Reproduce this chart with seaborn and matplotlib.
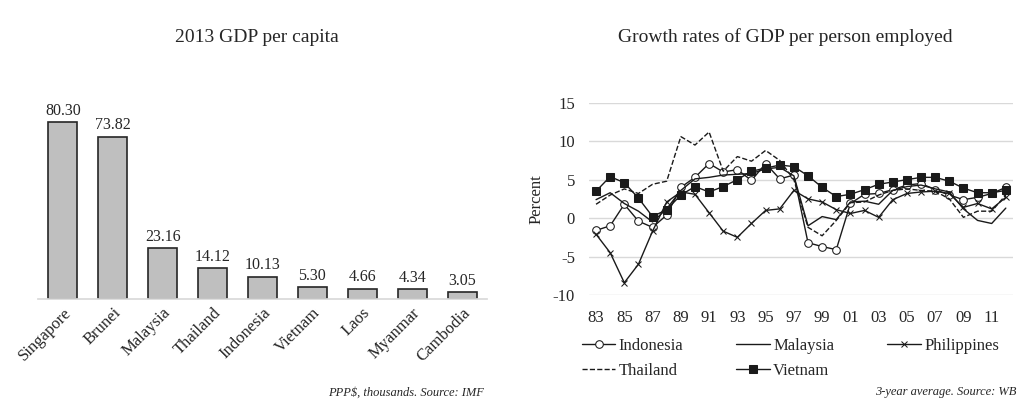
import numpy as np
import pandas as pd
import matplotlib
matplotlib.use("Agg")
import matplotlib.pyplot as plt
import seaborn as sns

sns.set_theme(style="white")
plt.rcParams["font.family"] = ["Liberation Serif", "DejaVu Serif"]
plt.rcParams["axes.unicode_minus"] = False

# left chart: 2013 GDP per capita
countries = ["Singapore", "Brunei", "Malaysia", "Thailand", "Indonesia",
             "Vietnam", "Laos", "Myanmar", "Cambodia"]
gdp_pc = [80.30, 73.82, 23.16, 14.12, 10.13, 5.30, 4.66, 4.34, 3.05]

# right chart: growth of GDP per person employed, 3-year average
years = list(range(1983, 2013))
indonesia = [-1.6, -1.0, 1.8, -0.4, -1.2, 0.4, 4.0, 5.3, 7.1, 6.0,
             6.3, 4.9, 7.1, 5.1, 5.6, -3.2, -3.7, -4.1, 1.9, 3.1,
             3.2, 3.7, 4.3, 4.5, 3.7, 3.0, 2.4, 2.7, 3.2, 4.0]
malaysia = [2.4, 3.3, 1.9, 0.9, -0.5, 1.2, 3.6, 5.1, 5.3, 5.6,
            5.7, 5.8, 6.4, 6.6, 5.5, -1.0, 0.2, -0.2, 2.1, 2.2,
            1.8, 3.6, 4.1, 4.3, 3.8, 3.4, 1.2, -0.3, -0.7, 1.3]
philippines = [-2.1, -4.5, -8.4, -6.0, -1.7, 2.1, 3.4, 3.1, 0.7, -1.7,
               -2.5, -0.7, 1.0, 1.2, 3.6, 2.5, 2.1, 1.1, 0.6, 1.0,
               0.1, 2.4, 3.2, 3.4, 3.5, 3.2, 1.4, 1.9, 1.2, 2.7]
thailand = [1.8, 3.0, 3.8, 3.2, 4.4, 4.8, 10.6, 9.5, 11.2, 6.1,
            8.0, 7.4, 8.8, 7.5, 5.0, -1.2, -2.3, -0.3, 2.0, 2.1,
            3.0, 3.6, 3.8, 3.6, 3.5, 2.5, 0.1, 0.9, 0.9, 3.0]
vietnam = [3.5, 5.4, 4.6, 2.6, 0.2, 1.1, 3.0, 4.1, 3.4, 4.1,
           5.0, 6.1, 6.5, 6.9, 6.7, 5.5, 4.0, 2.8, 3.1, 3.7,
           4.4, 4.7, 5.0, 5.3, 5.3, 4.8, 3.9, 3.3, 3.3, 3.6]

fig = plt.figure(figsize=(10.19, 4.03), dpi=100)

# ---- bar chart
ax1 = fig.add_axes([0.0373, 0.258, 0.4406, 0.491])
bar_df = pd.DataFrame({"country": countries, "gdp": gdp_pc})
sns.barplot(data=bar_df, x="country", y="gdp", color="#bfbfbf",
            edgecolor="#262626", linewidth=1.2, width=0.58,
            saturation=1, ax=ax1)
for i, v in enumerate(gdp_pc):
    ax1.text(i, v + 1.5, f"{v:.2f}", ha="center", va="bottom",
             fontsize=11.5, color="#262626")
ax1.set_xlim(-0.5, 8.5)
ax1.set_ylim(0, 90)
ax1.set_yticks([])
ax1.set_xlabel("")
ax1.set_ylabel("")
for s in ["top", "right", "left"]:
    ax1.spines[s].set_visible(False)
ax1.spines["bottom"].set_color("#d9d9d9")
ax1.tick_params(axis="x", length=0, pad=4)
plt.setp(ax1.get_xticklabels(), rotation=45, ha="right",
         rotation_mode="anchor", fontsize=12, color="#262626")
fig.text(0.252, 0.908, "2013 GDP per capita", ha="center", va="center",
         fontsize=14, color="#262626")
fig.text(0.475, 0.025, "PPP$, thousands. Source: IMF", ha="right",
         va="center", fontsize=9, style="italic", color="#262626")

# ---- line chart
ax2 = fig.add_axes([0.578, 0.268, 0.416, 0.477])
series = {
    "Indonesia": (indonesia, dict(marker="o", markerfacecolor="white",
                                  markeredgecolor="#1a1a1a", markersize=5.5,
                                  linestyle="-")),
    "Malaysia": (malaysia, dict(marker=None, linestyle="-")),
    "Philippines": (philippines, dict(marker="x", markersize=5,
                                      markeredgecolor="#1a1a1a",
                                      linestyle="-")),
    "Thailand": (thailand, dict(marker=None, linestyle="--",
                                dashes=(3, 1.5))),
    "Vietnam": (vietnam, dict(marker="s", markersize=5.5,
                              markerfacecolor="#1a1a1a",
                              markeredgecolor="#1a1a1a", linestyle="-")),
}
for name, (vals, kw) in series.items():
    sns.lineplot(x=years, y=vals, color="#1a1a1a", linewidth=1.0,
                 ax=ax2, label=name, **kw)
h, l = ax2.get_legend_handles_labels()
handles = dict(zip(l, h))
ax2.get_legend().remove()

ax2.set_xlim(1982.5, 2012.5)
ax2.set_ylim(-10, 15)
ax2.set_yticks(range(-10, 16, 5))
ax2.set_xticks(range(1983, 2012, 2))
ax2.set_xticklabels([f"{y % 100:02d}" for y in range(1983, 2012, 2)])
ax2.yaxis.grid(True, color="#d9d9d9", linewidth=1.0)
ax2.set_axisbelow(True)
for s in ax2.spines.values():
    s.set_visible(False)
ax2.tick_params(axis="both", length=0, labelsize=12, colors="#262626")
ax2.tick_params(axis="x", pad=11)
ax2.tick_params(axis="y", pad=10)
ax2.set_ylabel("Percent", fontsize=12, color="#262626", labelpad=6)
ax2.set_xlabel("")

order = ["Indonesia", "Thailand", "Malaysia", "Vietnam", "Philippines"]
fig.legend([handles[k] for k in order], order, ncol=3,
           loc="upper left", bbox_to_anchor=(0.571, 0.162),
           frameon=False, fontsize=12, handlelength=2.0,
           handletextpad=0.2, columnspacing=3.2, labelspacing=0.55,
           borderaxespad=0, borderpad=0)
fig.text(0.771, 0.908, "Growth rates of GDP per person employed",
         ha="center", va="center", fontsize=14, color="#262626")
fig.text(0.997, 0.028, "3-year average. Source: WB", ha="right",
         va="center", fontsize=9, style="italic", color="#262626")

fig.savefig("out.png", dpi=100)
